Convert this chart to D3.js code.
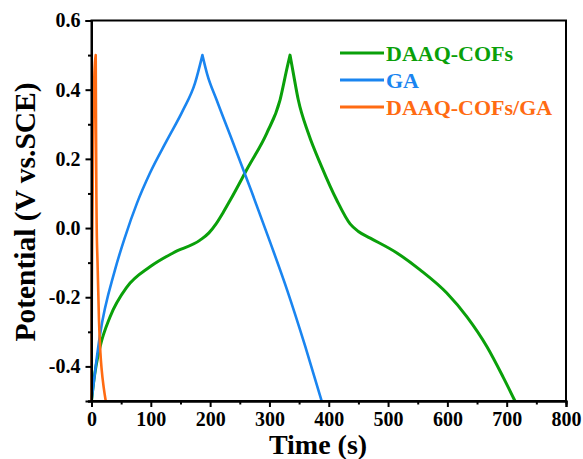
<!DOCTYPE html>
<html><head><meta charset="utf-8">
<script src="https://cdn.jsdelivr.net/npm/d3@7/dist/d3.min.js"></script>
<style>
html,body{margin:0;padding:0;background:#fff;}
svg text{font-family:"Liberation Serif","Times New Roman",serif;font-weight:bold;}
</style></head>
<body><svg id="c" width="583" height="459"></svg>
<script>
// Data (time in s, potential in V vs. SCE); each series = charge branch + discharge branch
const seriesNames = ["DAAQ-COFs", "GA", "DAAQ-COFs/GA"];
const seriesColors = ["#0aa00a", "#1a85f0", "#ff6b12"];
const daaqChargeT = [0,4,8,14.3,31.2,59.9,98.6,137.4,183,198,210,222,234,264.4,295.4,317.8,330.1,334.7];
const daaqChargeV = [-0.5,-0.44,-0.395,-0.344,-0.257,-0.170,-0.112,-0.072,-0.035,-0.014,0.012,0.045,0.081,0.177,0.274,0.370,0.466,0.5];
const daaqDischT = [334.7,340,348.7,365.6,388.1,413.4,436,450,470,515,554,599,633,667,694,714];
const daaqDischV = [0.5,0.45,0.37,0.274,0.177,0.081,0.012,-0.010,-0.029,-0.072,-0.121,-0.188,-0.257,-0.344,-0.431,-0.5];
const gaChargeT = [0,14.3,39.6,56.5,76.7,98.6,127.3,154.3,174.5,187];
const gaChargeV = [-0.5,-0.309,-0.121,-0.026,0.072,0.159,0.254,0.341,0.419,0.5];
const gaDischT = [187,195,211,239,270,301,330,360,388];
const gaDischV = [0.5,0.445,0.37,0.245,0.105,-0.04,-0.18,-0.34,-0.5];
const compChargeT = [0,0.5,1.4,3,5,7.1];
const compChargeV = [-0.5,-0.2,0.0,0.3,0.45,0.5];
const compDischT = [7.1,7.6,8.2,8.8,10.2,12.6,15,17.2,20.5,24];
const compDischV = [0.5,0.3,0.1,0.0,-0.1,-0.266,-0.36,-0.41,-0.46,-0.5];
const xTicks = [0,100,200,300,400,500,600,700,800];
const xMinor = [50,150,250,350,450,550,650,750];
const yTicks = [0.6,0.4,0.2,0.0,-0.2,-0.4];
const yMinor = [0.5,0.3,0.1,-0.1,-0.3,-0.5];

const svg = d3.select("#c");
const L = 91.5, T = 20.5, R = 566, B = 401;
const x = d3.scaleLinear().domain([0,800]).range([L,R]);
const y = d3.scaleLinear().domain([-0.5,0.6]).range([B,T]);

const zip = (ts,vs)=>ts.map((t,i)=>[t,vs[i]]);
const series = [
  {name:seriesNames[0], color:seriesColors[0], w:3, c:zip(daaqChargeT,daaqChargeV), d:zip(daaqDischT,daaqDischV)},
  {name:seriesNames[1], color:seriesColors[1], w:2.6, c:zip(gaChargeT,gaChargeV), d:zip(gaDischT,gaDischV)},
  {name:seriesNames[2], color:seriesColors[2], w:2.6, c:zip(compChargeT,compChargeV), d:zip(compDischT,compDischV)}
];
const up = d3.line().x(d=>x(d[0])).y(d=>y(d[1])).curve(d3.curveMonotoneX);
svg.append("clipPath").attr("id","clip").append("rect")
  .attr("x",L-2).attr("y",T).attr("width",R-L+2).attr("height",B-T+1);
const g = svg.append("g").attr("clip-path","url(#clip)");
series.forEach(s=>{
  const d1 = up(s.c);
  const d2 = up(s.d).slice(1);
  g.append("path").attr("d", d1 + "L" + d2)
    .attr("fill","none").attr("stroke",s.color)
    .attr("stroke-width",s.w).attr("stroke-linejoin","round").attr("stroke-linecap","round");
});

// frame
svg.append("rect").attr("x",L).attr("y",T).attr("width",R-L).attr("height",B-T)
  .attr("fill","none").attr("stroke","#000").attr("stroke-width",2);

// axes
const xAx = svg.append("g").attr("transform",`translate(0,${B})`)
  .call(d3.axisBottom(x).tickValues(xTicks).tickSize(6).tickPadding(5).tickFormat(d3.format("d")));
const xAxMin = svg.append("g").attr("transform",`translate(0,${B})`)
  .call(d3.axisBottom(x).tickValues(xMinor).tickSize(3.5).tickFormat(""));
const yAx = svg.append("g").attr("transform",`translate(${L},0)`)
  .call(d3.axisLeft(y).tickValues(yTicks).tickSize(6).tickPadding(5).tickFormat(d3.format(".1f")));
const yAxMin = svg.append("g").attr("transform",`translate(${L},0)`)
  .call(d3.axisLeft(y).tickValues(yMinor).tickSize(3.5).tickFormat(""));
[xAx,xAxMin,yAx,yAxMin].forEach(a=>{
  a.select(".domain").attr("stroke","#000").attr("stroke-width",2);
  a.selectAll(".tick line").attr("stroke","#000").attr("stroke-width",2);
  a.selectAll("text").attr("fill","#000").style("font-size","20px")
   .style("font-family","'Liberation Serif',serif").style("font-weight","bold");
});
yAx.selectAll("text").text(d=>d3.format(".1f")(d).replace("−","-"));

// titles
svg.append("text").attr("x",318).attr("y",453.5).attr("text-anchor","middle")
  .style("font-size","28px").text("Time (s)");
svg.append("text").attr("transform","translate(35,212) rotate(-90)").attr("text-anchor","middle")
  .style("font-size","29.5px").text("Potential (V vs.SCE)");

// legend
series.forEach((s,i)=>{
  const ly = 53 + i*27;
  svg.append("line").attr("x1",340).attr("x2",384).attr("y1",ly).attr("y2",ly)
    .attr("stroke",s.color).attr("stroke-width",3);
  svg.append("text").attr("x",386).attr("y",ly+7.5).attr("fill",s.color)
    .style("font-size","22px").text(s.name);
});
</script></body></html>
